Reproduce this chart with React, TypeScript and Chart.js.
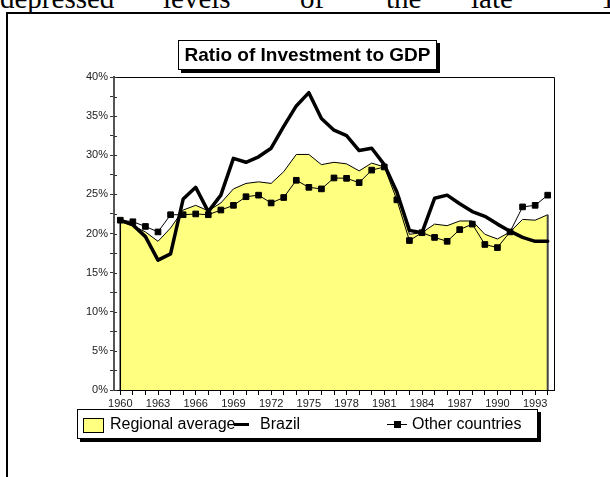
import React, { useEffect, useRef } from 'react';
import { Chart, registerables } from 'chart.js';

Chart.register(...registerables);

// ---------- data ----------
const years = [
  '1960', '1961', '1962', '1963', '1964', '1965', '1966', '1967', '1968', '1969',
  '1970', '1971', '1972', '1973', '1974', '1975', '1976', '1977', '1978', '1979',
  '1980', '1981', '1982', '1983', '1984', '1985', '1986', '1987', '1988', '1989',
  '1990', '1991', '1992', '1993', '1994',
];

const regionalAverage = [
  21.5, 21.0, 20.2, 19.0, 20.7, 23.0, 23.6, 22.9, 23.9, 25.7,
  26.4, 26.6, 26.4, 27.9, 30.1, 30.1, 28.8, 29.1, 28.9, 28.0,
  29.0, 28.5, 25.6, 19.9, 20.1, 21.2, 21.0, 21.6, 21.6, 19.9,
  19.3, 20.2, 21.8, 21.7, 22.4,
];

const brazil = [
  21.7, 21.1, 19.6, 16.6, 17.4, 24.4, 25.9, 22.8, 24.9, 29.6,
  29.1, 29.8, 30.9, 33.7, 36.3, 38.0, 34.7, 33.2, 32.5, 30.6,
  30.9, 28.8, 25.3, 20.4, 20.1, 24.5, 24.9, 23.8, 22.8, 22.2,
  21.2, 20.3, 19.5, 19.0, 19.0,
];

const otherCountries = [
  21.7, 21.5, 20.9, 20.2, 22.4, 22.4, 22.5, 22.4, 23.0, 23.6,
  24.7, 24.9, 23.9, 24.6, 26.8, 25.9, 25.7, 27.1, 27.05, 26.5,
  28.1, 28.5, 24.3, 19.1, 20.1, 19.5, 19.0, 20.5, 21.2, 18.6,
  18.2, 20.2, 23.4, 23.6, 24.9,
];

const seriesNames = ['Regional average', 'Brazil', 'Other countries'];
const titleText = 'Ratio of Investment to GDP';
const yMin = 0;
const yMax = 40;
const yMinorStep = 2.5;
const yLabelStep = 5;
const xLabelEvery = 3;
const headerWords = ['depressed', 'levels', 'of', 'the', 'late', '1980s'];

// ---------- styles ----------
const SANS = '"Liberation Sans", Arial, Helvetica, sans-serif';
const SERIF = '"Liberation Serif", "Times New Roman", serif';
const YELLOW = '#FFFF80';

export default function App() {
  const canvasRef = useRef<HTMLCanvasElement>(null);

  useEffect(() => {
    const canvas = canvasRef.current;
    if (!canvas) return;

    const areaEdges = {
      id: 'areaEdges',
      afterDatasetDraw(chart: any, args: any) {
        if (args.index !== 0) return;
        const meta = chart.getDatasetMeta(0);
        const pts = meta.data;
        if (!pts.length) return;
        const y0 = chart.scales.y.getPixelForValue(0);
        const ctx = chart.ctx;
        ctx.save();
        ctx.strokeStyle = '#000';
        ctx.lineWidth = 1.5;
        ctx.beginPath();
        ctx.moveTo(pts[0].x, pts[0].y);
        ctx.lineTo(pts[0].x, y0);
        ctx.stroke();
        ctx.strokeStyle = '#444';
        ctx.lineWidth = 2;
        const last = pts[pts.length - 1];
        ctx.beginPath();
        ctx.moveTo(last.x, last.y);
        ctx.lineTo(last.x, y0);
        ctx.stroke();
        ctx.restore();
      },
    };

    const plotFrame = {
      id: 'plotFrame',
      afterDraw(chart: any) {
        const { left, top, right, bottom } = chart.chartArea;
        const ctx = chart.ctx;
        ctx.save();
        ctx.strokeStyle = '#000';
        ctx.lineWidth = 1;
        ctx.beginPath();
        ctx.moveTo(left, Math.round(top) + 0.5);
        ctx.lineTo(Math.round(right) + 0.5, Math.round(top) + 0.5);
        ctx.lineTo(Math.round(right) + 0.5, bottom);
        ctx.stroke();
        // inward half of the y-axis tick marks
        const ys = chart.scales.y;
        ctx.strokeStyle = '#333';
        ctx.beginPath();
        ys.ticks.forEach((t: any) => {
          const py = Math.round(ys.getPixelForValue(t.value)) + 0.5;
          ctx.moveTo(left, py);
          ctx.lineTo(left + 3, py);
        });
        ctx.stroke();
        ctx.restore();
      },
    };

    const chart = new Chart(canvas, {
      type: 'line',
      data: {
        labels: years,
        datasets: [
          {
            label: seriesNames[0],
            data: regionalAverage,
            borderColor: '#000',
            borderWidth: 1,
            backgroundColor: YELLOW,
            fill: 'origin',
            pointRadius: 0,
            tension: 0,
            order: 3,
          },
          {
            label: seriesNames[1],
            data: brazil,
            borderColor: '#000',
            borderWidth: 3.5,
            borderJoinStyle: 'round',
            borderCapStyle: 'round',
            fill: false,
            pointRadius: 0,
            tension: 0,
            order: 2,
          },
          {
            label: seriesNames[2],
            data: otherCountries,
            borderColor: '#000',
            borderWidth: 1,
            fill: false,
            pointStyle: 'rect',
            pointRadius: 4,
            pointBorderWidth: 1,
            pointBackgroundColor: '#000',
            pointBorderColor: '#000',
            tension: 0,
            order: 1,
          },
        ],
      },
      options: {
        responsive: false,
        animation: false,
        events: [],
        layout: { padding: { left: 0, top: 77, right: 56, bottom: 57 } },
        plugins: {
          legend: { display: false },
          title: { display: false },
          tooltip: { enabled: false },
        },
        scales: {
          x: {
            type: 'category',
            offset: true,
            grid: {
              drawOnChartArea: false,
              drawTicks: true,
              tickLength: 5,
              color: '#000',
              offset: false,
            },
            border: { display: true, color: '#000', width: 1 },
            ticks: {
              autoSkip: false,
              maxRotation: 0,
              minRotation: 0,
              padding: 2,
              color: '#222',
              font: { family: SANS, size: 11 },
              callback: (_v: any, i: number) => (i % xLabelEvery === 0 ? years[i] : ''),
            },
            afterFit(scale: any) {
              scale.height = 30;
              scale.paddingLeft = 0;
              scale.paddingRight = 0;
            },
          },
          y: {
            type: 'linear',
            min: yMin,
            max: yMax,
            grid: {
              drawOnChartArea: false,
              drawTicks: true,
              tickLength: 4,
              color: '#333',
            },
            border: { display: true, color: '#555', width: 2 },
            ticks: {
              stepSize: yMinorStep,
              autoSkip: false,
              padding: 2,
              color: '#222',
              font: { family: SANS, size: 11 },
              callback: (v: any) => (Number(v) % yLabelStep === 0 ? `${v}%` : ''),
            },
            afterFit(scale: any) {
              scale.width = 114;
              scale.paddingTop = 0;
              scale.paddingBottom = 0;
            },
          },
        },
      },
      plugins: [areaEdges, plotFrame],
    });

    return () => chart.destroy();
  }, []);

  const headerLefts = [0, 163, 300, 386, 471, 601];

  return (
    <div
      style={{
        position: 'fixed',
        left: 0,
        top: 0,
        width: 610,
        height: 477,
        overflow: 'hidden',
        background: '#fff',
      }}
    >
      {headerWords.map((w, i) => (
        <span
          key={w}
          style={{
            position: 'absolute',
            left: headerLefts[i],
            top: -16,
            fontFamily: SERIF,
            fontSize: 29,
            lineHeight: '29px',
            whiteSpace: 'nowrap',
            color: '#000',
          }}
        >
          {w}
        </span>
      ))}
      <div
        style={{
          position: 'absolute',
          left: 6,
          top: 12,
          width: 700,
          height: 600,
          border: '2px solid #000',
          boxSizing: 'border-box',
        }}
      />
      <canvas
        ref={canvasRef}
        width={610}
        height={477}
        style={{ position: 'absolute', left: 0, top: 0, width: 610, height: 477, display: 'block' }}
      />
      <div
        style={{
          position: 'absolute',
          left: 178,
          top: 40,
          width: 259,
          height: 30,
          boxSizing: 'border-box',
          border: '1px solid #000',
          boxShadow: '3px 3px 0 #000',
          background: '#fff',
          fontFamily: SANS,
          fontWeight: 'bold',
          fontSize: 19,
          lineHeight: '28px',
          textAlign: 'center',
          color: '#000',
          whiteSpace: 'nowrap',
        }}
      >
        {titleText}
      </div>
      <div
        style={{
          position: 'absolute',
          left: 77,
          top: 409,
          width: 461,
          height: 30,
          boxSizing: 'border-box',
          border: '1px solid #000',
          boxShadow: '3px 3px 0 #000',
          background: '#fff',
        }}
      />
      <div
        style={{
          position: 'absolute',
          left: 83,
          top: 418,
          width: 21,
          height: 15,
          boxSizing: 'border-box',
          border: '1px solid #000',
          background: YELLOW,
        }}
      />
      <span style={legendText(110)}>{seriesNames[0]}</span>
      <div style={{ position: 'absolute', left: 234, top: 423, width: 15, height: 3, background: '#000' }} />
      <span style={legendText(260)}>{seriesNames[1]}</span>
      <div style={{ position: 'absolute', left: 387, top: 424, width: 20, height: 1, background: '#000' }} />
      <div style={{ position: 'absolute', left: 394, top: 421, width: 7, height: 7, background: '#000' }} />
      <span style={legendText(412)}>{seriesNames[2]}</span>
    </div>
  );
}

function legendText(left: number): React.CSSProperties {
  return {
    position: 'absolute',
    left,
    top: 416,
    fontFamily: SANS,
    fontSize: 16,
    lineHeight: '16px',
    color: '#000',
    whiteSpace: 'nowrap',
  };
}
